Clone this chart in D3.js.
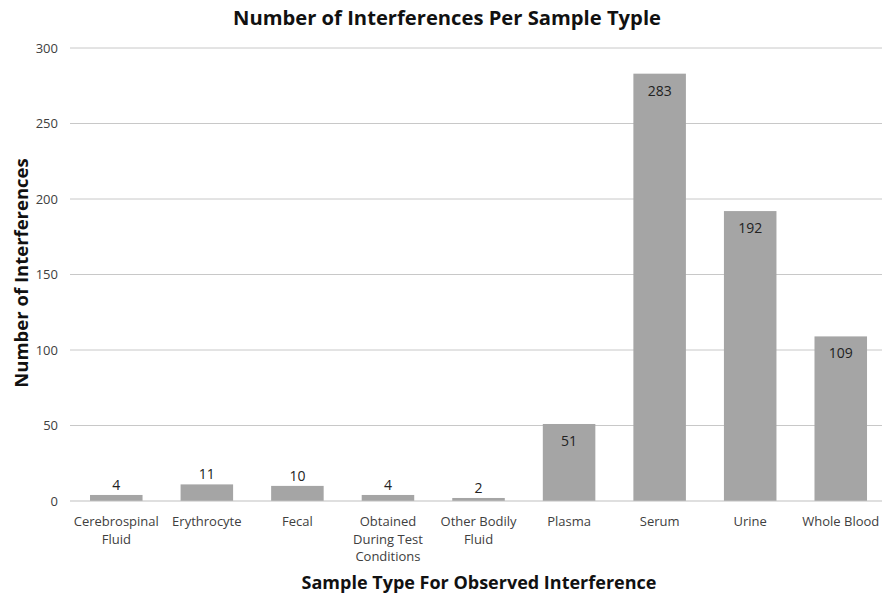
<!DOCTYPE html>
<html><head><meta charset="utf-8">
<script src="https://cdn.jsdelivr.net/npm/d3@7"></script>
<style>body{margin:0;background:#fff;} text{font-family:"Open Sans",sans-serif;}</style>
</head><body>
<svg id="c" width="882" height="599"></svg>
<script>
const categories = ["Cerebrospinal Fluid","Erythrocyte","Fecal","Obtained During Test Conditions","Other Bodily Fluid","Plasma","Serum","Urine","Whole Blood"];
const categoryLines = [["Cerebrospinal","Fluid"],["Erythrocyte"],["Fecal"],["Obtained","During Test","Conditions"],["Other Bodily","Fluid"],["Plasma"],["Serum"],["Urine"],["Whole Blood"]];
const values = [4,11,10,4,2,51,283,192,109];
const yTicks = [0,50,100,150,200,250,300];

const svg = d3.select("#c");
const m = {l:70, r:882, t:48, b:501};
const x = d3.scaleBand().domain(categories).range([m.l+1, m.l+1+90.56*9]).paddingInner(0.42).paddingOuter(0.21);
const y = d3.scaleLinear().domain([0,300]).range([m.b, m.t]);

svg.append("g").selectAll("line").data(yTicks.filter(d=>d>0)).join("line")
  .attr("x1", m.l).attr("x2", m.r).attr("y1", d=>y(d)).attr("y2", d=>y(d))
  .attr("stroke","#c8c8c8").attr("stroke-width",1);

const ya = svg.append("g").attr("transform",`translate(${m.l},0)`)
  .call(d3.axisLeft(y).tickValues(yTicks).tickSize(0).tickPadding(12));
ya.select(".domain").remove();
ya.selectAll("text").attr("font-size",13).attr("fill","#404040").attr("font-family","Open Sans, sans-serif");

svg.append("g").selectAll("rect").data(values).join("rect")
  .attr("x",(d,i)=>x(categories[i])).attr("width",x.bandwidth())
  .attr("y",d=>y(d)).attr("height",d=>y(0)-y(d)).attr("fill","#a5a5a5");

svg.append("line").attr("x1",m.l).attr("x2",m.r).attr("y1",y(0)).attr("y2",y(0)).attr("stroke","#bfbfbf");

svg.append("g").selectAll("text").data(values).join("text")
  .attr("x",(d,i)=>x(categories[i])+x.bandwidth()/2)
  .attr("y",d=> d>=30 ? y(d)+22 : y(d)-5)
  .attr("text-anchor","middle").attr("font-size",14).attr("fill","#222")
  .text(d=>d);

const xl = svg.append("g");
categoryLines.forEach((lines,i)=>{
  const t = xl.append("text").attr("x",x(categories[i])+x.bandwidth()/2).attr("y",526)
    .attr("text-anchor","middle").attr("font-size",13).attr("fill","#404040");
  lines.forEach((ln,j)=>t.append("tspan").attr("x",x(categories[i])+x.bandwidth()/2).attr("dy",j?17.5:0).text(ln));
});

svg.append("text").attr("x",447).attr("y",25).attr("text-anchor","middle")
  .attr("font-size",20.2).attr("font-weight","bold").attr("fill","#111").text("Number of Interferences Per Sample Typle");
svg.append("text").attr("x",479).attr("y",589).attr("text-anchor","middle")
  .attr("font-size",18).attr("font-weight","bold").attr("fill","#111").text("Sample Type For Observed Interference");
svg.append("text").attr("transform","translate(28,273) rotate(-90)").attr("text-anchor","middle")
  .attr("font-size",18.5).attr("font-weight","bold").attr("fill","#111").text("Number of Interferences");
</script>
</body></html>
